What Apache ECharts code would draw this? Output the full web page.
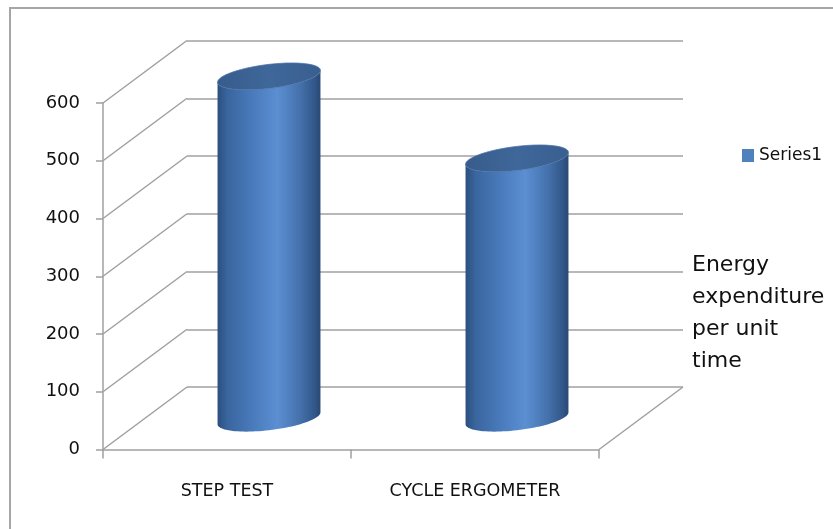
<!DOCTYPE html>
<html>
<head>
<meta charset="utf-8">
<title>Energy expenditure per unit time</title>
<script src="https://cdn.jsdelivr.net/npm/echarts@6/dist/echarts.min.js"></script>
<style>
  html, body { margin: 0; padding: 0; background: #ffffff; overflow: hidden; }
  #chart { width: 833px; height: 529px; }
</style>
</head>
<body>
<div id="chart"></div>
<script>
// ---- data ----
const categories = ['STEP TEST', 'CYCLE ERGOMETER'];
const seriesName = 'Series1';
const energyValues = [592, 450];
const yTickValues = [0, 100, 200, 300, 400, 500, 600];
const sideTitle = ['Energy', 'expenditure', 'per unit', 'time'];

// ---- layout / style ----
const FONT = 'DejaVu Sans';
const FRONT = { left: 103, right: 234, top: 103, bottom: 79.5 };   // front plane of the box
const DEPTH = [84, -62.5];                                           // oblique depth offset of the back wall
const BACK = {
  left: FRONT.left + DEPTH[0],
  right: FRONT.right - DEPTH[0],
  top: FRONT.top + DEPTH[1],
  bottom: FRONT.bottom - DEPTH[1]
};
const GRID_COLOR = '#a0a0a0';
const BAR_RATIO = 0.415;   // cylinder diameter as share of the category band
const TILT = 0.115;        // slope of the elliptical caps
const RIM = 12;            // half height of the elliptical caps

const chart = echarts.init(document.getElementById('chart'), null, { renderer: 'canvas' });

// one point on a cap ellipse (t in radians, sin t > 0 is the front half)
function capPoint(cx, cy, a, t) {
  return [cx + a * Math.cos(t), cy - TILT * a * Math.cos(t) + RIM * Math.sin(t)];
}

function renderCylinder(params, api) {
  const cat = api.value(0);
  const val = api.value(1);
  const base = api.coord([cat, 0]);
  const top = api.coord([cat, val]);
  const band = api.size([1, 0])[0];
  const a = band * BAR_RATIO / 2;
  const cx = base[0] + DEPTH[0] / 2;
  const yb = base[1] + DEPTH[1] / 2;
  const yt = top[1] + DEPTH[1] / 2;
  const N = 48;

  const body = [];
  body.push(capPoint(cx, yt, a, Math.PI));
  for (let i = 0; i <= N; i++) {
    body.push(capPoint(cx, yb, a, Math.PI - Math.PI * i / N));
  }
  for (let i = 0; i <= N; i++) {
    body.push(capPoint(cx, yt, a, Math.PI * i / N));
  }

  const cap = [];
  for (let i = 0; i < N * 2; i++) {
    cap.push(capPoint(cx, yt, a, Math.PI * 2 * i / (N * 2)));
  }

  const bodyFill = new echarts.graphic.LinearGradient(0, 0, 1, 0, [
    { offset: 0, color: '#2b4f7f' },
    { offset: 0.1, color: '#3a669f' },
    { offset: 0.35, color: '#4a7bbd' },
    { offset: 0.58, color: '#5b8fd2' },
    { offset: 0.8, color: '#4571ac' },
    { offset: 0.94, color: '#33588a' },
    { offset: 1, color: '#2a4874' }
  ]);
  const capFill = new echarts.graphic.LinearGradient(0, 0, 1, 0, [
    { offset: 0, color: '#375c8c' },
    { offset: 0.5, color: '#3f6799' },
    { offset: 1, color: '#395f90' }
  ]);

  return {
    type: 'group',
    children: [
      { type: 'polygon', shape: { points: body }, style: { fill: bodyFill } },
      { type: 'polygon', shape: { points: cap }, style: { fill: capFill, stroke: '#4a74a8', lineWidth: 0.8 } }
    ]
  };
}

// receding side-wall and floor lines
function renderDepthLines(params, api) {
  const v = api.value(1);
  const sys = params.coordSys;
  const y = api.coord([0, v])[1];
  const lineStyle = { stroke: GRID_COLOR, lineWidth: 1.5 };
  const children = [{
    type: 'line',
    shape: { x1: sys.x, y1: y, x2: sys.x + DEPTH[0], y2: y + DEPTH[1] },
    style: lineStyle
  }];
  if (v === 0) {
    children.push({
      type: 'line',
      shape: { x1: sys.x + sys.width, y1: y, x2: sys.x + sys.width + DEPTH[0], y2: y + DEPTH[1] },
      style: lineStyle
    });
  }
  return { type: 'group', children: children };
}

const option = {
  backgroundColor: '#ffffff',
  animation: false,
  textStyle: { fontFamily: FONT },
  grid: [
    { left: FRONT.left, right: FRONT.right, top: FRONT.top, bottom: FRONT.bottom },
    { left: BACK.left, right: BACK.right, top: BACK.top, bottom: BACK.bottom }
  ],
  legend: {
    data: [seriesName],
    left: 737,
    top: 142,
    icon: 'rect',
    itemWidth: 12,
    itemHeight: 13,
    selectedMode: false,
    textStyle: { fontFamily: FONT, fontSize: 17, color: '#111111' }
  },
  xAxis: [
    {
      type: 'category',
      gridIndex: 0,
      data: categories,
      boundaryGap: true,
      axisLine: { show: true, lineStyle: { color: GRID_COLOR, width: 1.5 } },
      axisTick: { show: true, length: 9, lineStyle: { color: GRID_COLOR, width: 1.5 } },
      axisLabel: { margin: 33, fontFamily: FONT, fontSize: 17.5, color: '#111111' },
      splitLine: { show: false }
    },
    {
      type: 'category',
      gridIndex: 1,
      data: categories,
      show: false
    }
  ],
  yAxis: [
    {
      type: 'value',
      gridIndex: 0,
      min: 0,
      max: 600,
      interval: 100,
      axisLine: { show: true, lineStyle: { color: GRID_COLOR, width: 1.5 } },
      axisTick: { show: true, length: 7, lineStyle: { color: GRID_COLOR, width: 1.5 } },
      axisLabel: { margin: 23, fontFamily: FONT, fontSize: 18, color: '#111111' },
      splitLine: { show: false }
    },
    {
      type: 'value',
      gridIndex: 1,
      min: 0,
      max: 600,
      interval: 100,
      axisLine: { show: false },
      axisTick: { show: false },
      axisLabel: { show: false },
      splitLine: { show: true, lineStyle: { color: GRID_COLOR, width: 1.5 } }
    }
  ],
  series: [
    {
      name: 'depth',
      type: 'custom',
      xAxisIndex: 0,
      yAxisIndex: 0,
      silent: true,
      z: 1,
      renderItem: renderDepthLines,
      data: yTickValues.map(function (v) { return [0, v]; })
    },
    {
      name: seriesName,
      type: 'custom',
      xAxisIndex: 0,
      yAxisIndex: 0,
      z: 5,
      itemStyle: { color: '#4f81bd' },
      renderItem: renderCylinder,
      data: energyValues.map(function (v, i) { return [i, v]; })
    }
  ],
  graphic: [
    {
      type: 'rect',
      z: 0,
      silent: true,
      shape: { x: 10, y: 8, width: 1200, height: 800 },
      style: { fill: 'none', stroke: '#a6a6a6', lineWidth: 2 }
    },
    {
      type: 'text',
      left: 692,
      top: 249,
      silent: true,
      style: {
        text: sideTitle.join('\n'),
        fontFamily: FONT,
        fontSize: 22,
        lineHeight: 32,
        fill: '#111111'
      }
    }
  ]
};

chart.setOption(option);
</script>
</body>
</html>
